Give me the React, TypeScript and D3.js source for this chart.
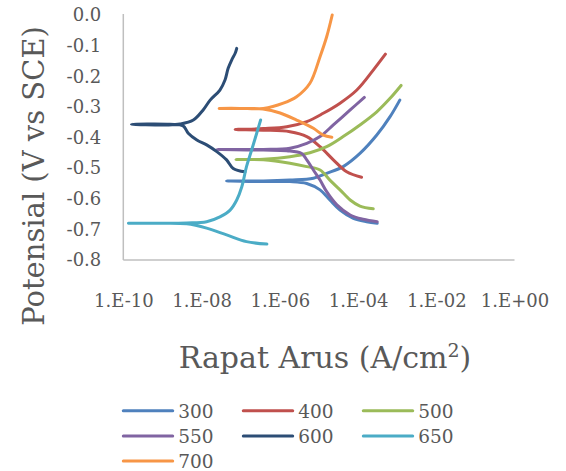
import React, { useEffect, useRef } from "react";
import * as d3 from "d3";

const width = 566;
const height = 471;

// series names and colours (legend order)
const seriesNames = ["300", "400", "500", "550", "600", "650", "700"];
const seriesColors = ["#4F81BD", "#C0504D", "#9BBB59", "#8064A2", "#2C4D75", "#4BACC6", "#F79646"];

// current density (A/cm2) and potential (V vs SCE), cathodic end -> i_corr -> anodic end
const cur300 = [3.09e-4, 1.66e-4, 7.6e-5, 3.47e-5, 1.91e-5, 1.07e-5, 4.9e-6, 1.82e-6, 3.8e-7, 4.37e-8,
  3.8e-7, 1.82e-6, 7.24e-6, 1.58e-5, 4.17e-5, 1.12e-4, 3.02e-4, 6.6e-4, 1.17e-3];
const pot300 = [-0.680, -0.675, -0.664, -0.637, -0.604, -0.571, -0.550, -0.544, -0.544, -0.542,
  -0.542, -0.539, -0.533, -0.517, -0.495, -0.452, -0.392, -0.332, -0.278];

const cur400 = [1.23e-4, 5.13e-5, 2.34e-5, 1.07e-5, 4.9e-6, 1.82e-6, 3.8e-7, 7.24e-8,
  3.8e-7, 1.51e-6, 4.9e-6, 1.29e-5, 3.47e-5, 9.33e-5, 2.45e-4, 5.01e-4];
const pot400 = [-0.530, -0.512, -0.473, -0.430, -0.397, -0.381, -0.376, -0.374,
  -0.371, -0.365, -0.348, -0.321, -0.288, -0.245, -0.180, -0.128];

const cur500 = [2.45e-4, 1.12e-4, 6.31e-5, 3.47e-5, 1.91e-5, 1.07e-5, 4.9e-6, 1.82e-6, 3.8e-7, 7.59e-8,
  3.8e-7, 1.82e-6, 5.89e-6, 1.58e-5, 4.17e-5, 1.12e-4, 3.02e-4, 6.6e-4, 1.26e-3];
const pot500 = [-0.633, -0.624, -0.604, -0.571, -0.539, -0.506, -0.495, -0.484, -0.473, -0.472,
  -0.471, -0.463, -0.450, -0.430, -0.397, -0.359, -0.316, -0.272, -0.230];

const cur550 = [3.09e-4, 1.35e-4, 6.31e-5, 2.88e-5, 1.58e-5, 1.07e-5, 7.24e-6, 4.9e-6, 3.63e-6, 1.51e-6, 3.8e-7, 2.45e-8,
  3.8e-7, 1.82e-6, 4.9e-6, 1.07e-5, 2.34e-5, 6.31e-5, 1.45e-4];
const pot550 = [-0.675, -0.667, -0.653, -0.620, -0.577, -0.539, -0.506, -0.473, -0.452, -0.443, -0.441, -0.439,
  -0.439, -0.435, -0.419, -0.397, -0.359, -0.310, -0.269];

const cur600 = [1.29e-7, 6.46e-8, 4.37e-8, 2.45e-8, 1.35e-8, 7.59e-9, 4.57e-9, 3.39e-9, 1.55e-9, 1.62e-10,
  1.29e-9, 2.82e-9, 6.17e-9, 1.10e-8, 1.66e-8, 2.95e-8, 3.98e-8, 4.79e-8, 5.89e-8, 7.24e-8, 7.94e-8];
const pot600 = [-0.512, -0.501, -0.473, -0.446, -0.424, -0.408, -0.386, -0.362, -0.357, -0.357,
  -0.359, -0.356, -0.343, -0.310, -0.278, -0.245, -0.212, -0.174, -0.147, -0.125, -0.109];

const cur650 = [4.68e-7, 1.41e-7, 4.37e-8, 1.35e-8, 4.17e-9, 8.71e-10, 1.35e-10,
  8.71e-10, 4.17e-9, 1.35e-8, 2.95e-8, 5.37e-8, 7.94e-8, 1.07e-7, 1.41e-7, 1.91e-7, 2.57e-7, 3.24e-7];
const pot650 = [-0.748, -0.740, -0.718, -0.696, -0.682, -0.680, -0.680,
  -0.680, -0.679, -0.675, -0.659, -0.637, -0.604, -0.561, -0.495, -0.441, -0.386, -0.343];

const cur700 = [2.14e-5, 1.29e-5, 7.24e-6, 2.69e-6, 1.02e-6, 3.72e-7, 9.55e-8, 2.82e-8,
  9.55e-8, 3.8e-7, 1.23e-6, 2.69e-6, 5.89e-6, 1.07e-5, 1.58e-5, 2.19e-5];
const pot700 = [-0.399, -0.392, -0.370, -0.343, -0.320, -0.307, -0.305, -0.305,
  -0.305, -0.305, -0.288, -0.267, -0.223, -0.136, -0.071, 0.0];

const currents = [cur300, cur400, cur500, cur550, cur600, cur650, cur700];
const potentials = [pot300, pot400, pot500, pot550, pot600, pot650, pot700];

const xTicks = [1e-10, 1e-8, 1e-6, 1e-4, 1e-2, 1];
const xTickLabels = ["1.E-10", "1.E-08", "1.E-06", "1.E-04", "1.E-02", "1.E+00"];
const yTicks = [0, -0.1, -0.2, -0.3, -0.4, -0.5, -0.6, -0.7, -0.8];
const yTickLabels = ["0.0", "-0.1", "-0.2", "-0.3", "-0.4", "-0.5", "-0.6", "-0.7", "-0.8"];

const font = "'DejaVu Serif', serif";
const textColor = "#595959";
const axisColor = "#BFBFBF";

const App = () => {
  const svgRef = useRef(null);

  useEffect(() => {
    const svg = d3.select(svgRef.current);
    svg.selectAll("*").remove();

    const marginLeft = 123.3;
    const marginRight = 51.5;
    const marginTop = 15;
    const marginBottom = 211;

    const x = d3.scaleLog().domain([1e-10, 1]).range([marginLeft, width - marginRight]);
    const y = d3.scaleLinear().domain([-0.8, 0]).range([height - marginBottom, marginTop]);

    // y axis labels
    svg.append("g")
      .attr("transform", `translate(${marginLeft},0)`)
      .call(d3.axisLeft(y).tickValues(yTicks).tickSize(0).tickPadding(22)
        .tickFormat((d, i) => yTickLabels[i]))
      .call(g => g.select(".domain").remove())
      .call(g => g.selectAll("text")
        .attr("fill", textColor)
        .style("font-family", font)
        .style("font-size", "18px"));

    // x axis labels
    svg.append("g")
      .attr("transform", `translate(0,${height - marginBottom})`)
      .call(d3.axisBottom(x).tickValues(xTicks).tickSize(0).tickPadding(34)
        .tickFormat((d, i) => xTickLabels[i]))
      .call(g => g.select(".domain").remove())
      .call(g => g.selectAll("text")
        .attr("fill", textColor)
        .style("font-family", font)
        .style("font-size", "18px"));

    // axis lines
    svg.append("line")
      .attr("x1", marginLeft).attr("x2", marginLeft)
      .attr("y1", marginTop - 1).attr("y2", height - marginBottom)
      .attr("stroke", axisColor).attr("stroke-width", 1.5);
    svg.append("line")
      .attr("x1", marginLeft).attr("x2", width - marginRight)
      .attr("y1", height - marginBottom).attr("y2", height - marginBottom)
      .attr("stroke", axisColor).attr("stroke-width", 1.5);

    // curves
    const line = d3.line()
      .x(d => x(d[0]))
      .y(d => y(d[1]))
      .curve(d3.curveCatmullRom.alpha(0.5));

    seriesNames.forEach((name, k) => {
      const pts = currents[k].map((c, j) => [c, potentials[k][j]]);
      svg.append("path")
        .datum(pts)
        .attr("d", line)
        .attr("fill", "none")
        .attr("stroke", seriesColors[k])
        .attr("stroke-width", 3)
        .attr("stroke-linecap", "round")
        .attr("stroke-linejoin", "round");
    });

    // axis titles
    const xt = svg.append("text")
      .attr("x", 325).attr("y", 368)
      .attr("text-anchor", "middle")
      .attr("fill", textColor)
      .style("font-family", font)
      .style("font-size", "30px");
    xt.append("tspan").text("Rapat Arus (A/cm");
    xt.append("tspan").attr("dy", -11).style("font-size", "19px").text("2");
    xt.append("tspan").attr("dy", 11).text(")");

    svg.append("text")
      .attr("transform", "translate(44,176) rotate(-90)")
      .attr("text-anchor", "middle")
      .attr("fill", textColor)
      .style("font-family", font)
      .style("font-size", "29px")
      .text("Potensial (V vs SCE)");

    // legend
    const legend = svg.append("g");
    seriesNames.forEach((name, k) => {
      const col = k % 3;
      const row = Math.floor(k / 3);
      const lx = 123.3 + col * 120;
      const ly = 410.7 + row * 25.2;
      legend.append("line")
        .attr("x1", lx).attr("x2", lx + 49.4)
        .attr("y1", ly).attr("y2", ly)
        .attr("stroke", seriesColors[k])
        .attr("stroke-width", 3)
        .attr("stroke-linecap", "round");
      legend.append("text")
        .attr("x", lx + 55).attr("y", ly + 7)
        .attr("fill", textColor)
        .style("font-family", font)
        .style("font-size", "18.5px")
        .text(name);
    });
  }, []);

  return (
    <svg
      ref={svgRef}
      width={width}
      height={height}
      viewBox={`0 0 ${width} ${height}`}
      style={{ position: "absolute", left: 0, top: 0, background: "#fff" }}
    ></svg>
  );
};

export default App;
